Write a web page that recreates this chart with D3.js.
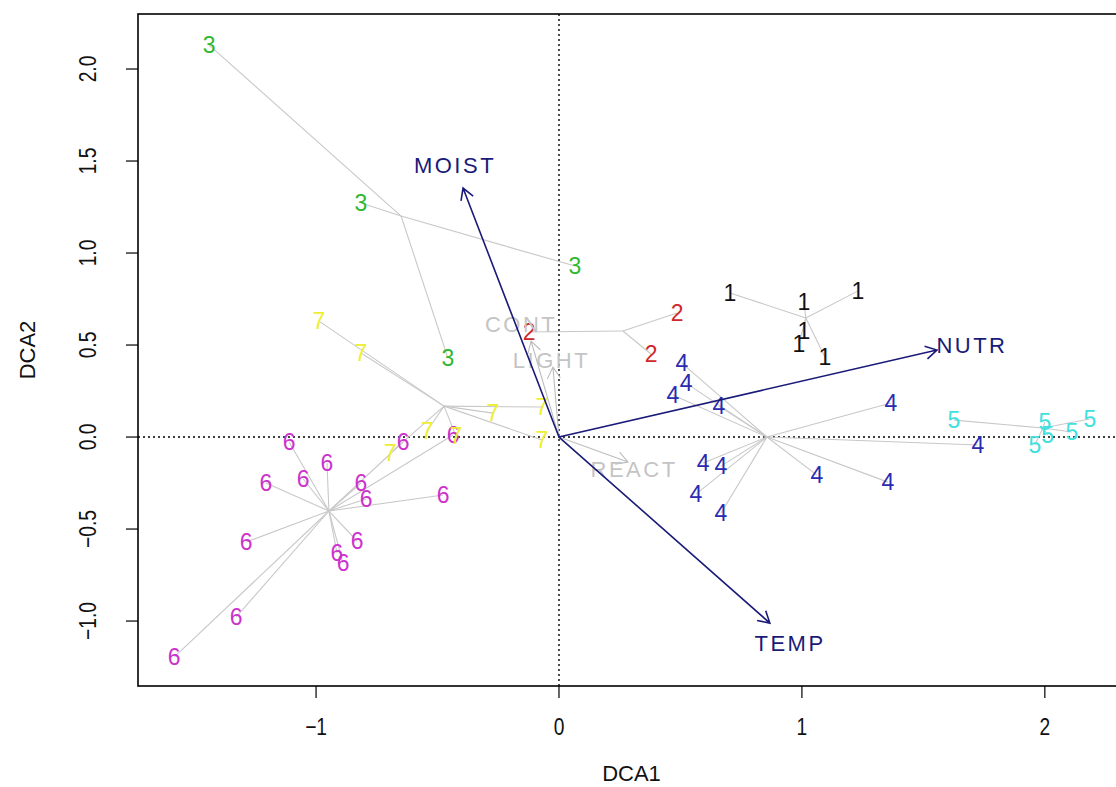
<!DOCTYPE html>
<html><head><meta charset="utf-8">
<script src="https://cdn.jsdelivr.net/npm/d3@7"></script>
<style>body{margin:0;background:#fff}svg text{font-family:"Liberation Sans",Arial,sans-serif}</style>
</head><body>
<svg id="c" width="1116" height="787"></svg>
<script>
// ---- data ----
const groups = [1, 2, 3, 4, 5, 6, 7];
const groupColors = ["#111111", "#d02828", "#30b830", "#2a2ab0", "#40e0e0", "#cc33cc", "#eeee30"];
const sites1 = [[0.704,0.783],[1.008,0.734],[1.230,0.793],[1.008,0.576],[0.988,0.505],[1.095,0.435]];
const sites2 = [[0.486,0.674],[0.379,0.451],[-0.123,0.571]];
const sites3 = [[-1.440,2.130],[-0.815,1.272],[0.066,0.929],[-0.457,0.429]];
const sites4 = [[0.506,0.402],[0.523,0.293],[0.469,0.228],[0.658,0.168],[1.366,0.185],[1.724,-0.043],
                [0.593,-0.141],[0.667,-0.158],[0.564,-0.310],[0.667,-0.413],[1.062,-0.207],[1.354,-0.245]];
const sites5 = [[1.626,0.092],[2.000,0.082],[2.185,0.098],[2.012,0.011],[2.111,0.027],[1.959,-0.043]];
const sites6 = [[-1.111,-0.027],[-0.955,-0.141],[-1.053,-0.228],[-1.206,-0.250],[-0.815,-0.250],[-0.794,-0.337],
                [-0.477,-0.315],[-1.288,-0.571],[-0.831,-0.565],[-0.914,-0.630],[-0.889,-0.685],[-1.329,-0.978],
                [-1.584,-1.196],[-0.642,-0.027],[-0.436,0.011]];
const sites7 = [[-0.988,0.630],[-0.815,0.457],[-0.272,0.130],[-0.070,0.163],[-0.070,-0.016],[-0.543,0.033],
                [-0.695,-0.087],[-0.424,0.005]];
const centroids = [[1.016,0.647],[0.263,0.576],[-0.650,1.201],[0.856,0.000],[1.992,0.049],[-0.947,-0.402],[-0.473,0.168]];
const siteSets = [sites1, sites2, sites3, sites4, sites5, sites6, sites7];

const envNames = ["MOIST", "NUTR", "TEMP", "CONT", "LIGHT", "REACT"];
const envTips = [[-0.395,1.353],[1.556,0.473],[0.868,-1.011],[-0.115,0.522],[-0.025,0.380],[0.284,-0.136]];
const envLabels = [[-0.428,1.473],[1.700,0.500],[0.951,-1.120],[-0.156,0.609],[-0.031,0.418],[0.309,-0.174]];
const envSignif = [true, true, true, false, false, false];

const xTicks = [-1, 0, 1, 2];
const yTicks = [-1.0, -0.5, 0.0, 0.5, 1.0, 1.5, 2.0];
const xLim = [-1.733, 2.33];
const yLim = [-1.353, 2.299];

// ---- layout ----
const svg = d3.select("#c");
const L = 138, R = 1125, T = 14, B = 686;
const x = d3.scaleLinear().domain(xLim).range([L, R]);
const y = d3.scaleLinear().domain(yLim).range([B, T]);

// zero lines
svg.append("line").attr("x1", x(0)).attr("x2", x(0)).attr("y1", T).attr("y2", B)
  .attr("stroke", "#000").attr("stroke-width", 1.4).attr("stroke-dasharray", "2,3");
svg.append("line").attr("x1", L).attr("x2", R).attr("y1", y(0)).attr("y2", y(0))
  .attr("stroke", "#000").attr("stroke-width", 1.4).attr("stroke-dasharray", "2,3");

// spider lines
siteSets.forEach((s, gi) => {
  const c = centroids[gi];
  svg.append("g").selectAll("line").data(s).join("line")
    .attr("x1", x(c[0])).attr("y1", y(c[1]))
    .attr("x2", d => x(d[0])).attr("y2", d => y(d[1]))
    .attr("stroke", "#c8c8c8").attr("stroke-width", 1.1);
});

// site labels
siteSets.forEach((s, gi) => {
  svg.append("g").selectAll("text").data(s).join("text")
    .attr("x", d => x(d[0])).attr("y", d => y(d[1]))
    .attr("text-anchor", "middle").attr("dominant-baseline", "central")
    .attr("font-size", 23).attr("fill", groupColors[gi])
    .text(groups[gi]);
});

// env arrows
function arrowPath(x1, y1, x2, y2) {
  const a = Math.atan2(y2 - y1, x2 - x1), len = 13, h = Math.PI / 6;
  const p1 = [x2 - len * Math.cos(a - h), y2 - len * Math.sin(a - h)];
  const p2 = [x2 - len * Math.cos(a + h), y2 - len * Math.sin(a + h)];
  return `M${x1},${y1}L${x2},${y2}M${p1[0]},${p1[1]}L${x2},${y2}L${p2[0]},${p2[1]}`;
}
const order = [3, 4, 5, 0, 1, 2];
order.forEach(i => {
  const col = envSignif[i] ? "#1a1a78" : "#bdbdbd";
  svg.append("path").attr("d", arrowPath(x(0), y(0), x(envTips[i][0]), y(envTips[i][1])))
    .attr("fill", "none").attr("stroke", col).attr("stroke-width", envSignif[i] ? 1.6 : 1.1);
  svg.append("text").attr("x", x(envLabels[i][0])).attr("y", y(envLabels[i][1]))
    .attr("text-anchor", "middle").attr("dominant-baseline", "central")
    .attr("font-size", 22).attr("letter-spacing", 2.5)
    .attr("fill", envSignif[i] ? "#1a1a78" : "#c4c4c4").text(envNames[i]);
});

// frame
svg.append("rect").attr("x", L).attr("y", T).attr("width", R - L).attr("height", B - T)
  .attr("fill", "none").attr("stroke", "#000").attr("stroke-width", 1.6);

// x axis
const gx = svg.append("g");
gx.selectAll("line").data(xTicks).join("line")
  .attr("x1", d => x(d)).attr("x2", d => x(d)).attr("y1", B).attr("y2", B + 12)
  .attr("stroke", "#000").attr("stroke-width", 1.2);
gx.selectAll("text").data(xTicks).join("text")
  .attr("transform", d => `translate(${x(d)},727) scale(0.8,1)`)
  .attr("text-anchor", "middle").attr("dominant-baseline", "central")
  .attr("font-size", 24).attr("fill", "#111").text(d => d3.format("d")(d));
svg.append("text").attr("x", (L + R) / 2).attr("y", 773)
  .attr("text-anchor", "middle").attr("dominant-baseline", "central")
  .attr("font-size", 22).attr("fill", "#111").text("DCA1");

// y axis
const gy = svg.append("g");
gy.selectAll("line").data(yTicks).join("line")
  .attr("x1", L - 12).attr("x2", L).attr("y1", d => y(d)).attr("y2", d => y(d))
  .attr("stroke", "#000").attr("stroke-width", 1.2);
gy.selectAll("text").data(yTicks).join("text")
  .attr("transform", d => `translate(88,${y(d)}) rotate(-90) scale(0.8,1)`)
  .attr("text-anchor", "middle").attr("dominant-baseline", "central")
  .attr("font-size", 24).attr("fill", "#111").text(d => d3.format(".1f")(d));
svg.append("text").attr("transform", `translate(27,${(T + B) / 2}) rotate(-90)`)
  .attr("text-anchor", "middle").attr("dominant-baseline", "central")
  .attr("font-size", 22).attr("fill", "#111").text("DCA2");
</script>
</body></html>
